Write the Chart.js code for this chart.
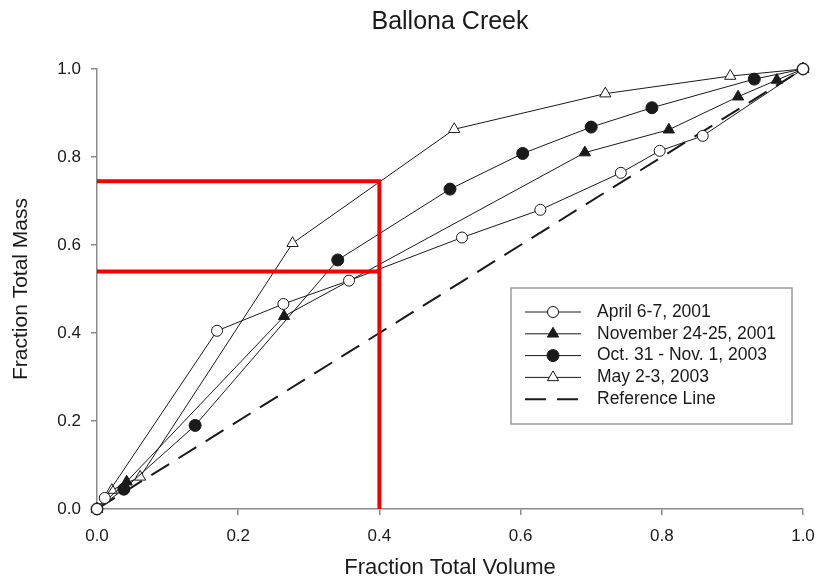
<!DOCTYPE html>
<html>
<head>
<meta charset="utf-8">
<title>Ballona Creek</title>
<script src="https://cdn.jsdelivr.net/npm/chart.js@4.4.1/dist/chart.umd.min.js"></script>
<style>
  html, body { margin: 0; padding: 0; background: #fff; }
  #wrap { width: 819px; height: 581px; }
</style>
</head>
<body>
<div id="wrap"><canvas id="chart" width="819" height="581"></canvas></div>
<script>
/* =========================
   DATOS
==========================*/
const aprilX = [0, 0.011, 0.17, 0.264, 0.357, 0.517, 0.628, 0.742, 0.797, 0.858, 1.0];
const aprilY = [0, 0.025, 0.405, 0.466, 0.519, 0.617, 0.680, 0.764, 0.814, 0.848, 1.0];

const novX = [0, 0.042, 0.265, 0.691, 0.81, 0.908, 0.963, 1.0];
const novY = [0, 0.062, 0.438, 0.81, 0.862, 0.937, 0.975, 1.0];

const octX = [0, 0.038, 0.139, 0.341, 0.5, 0.603, 0.70, 0.786, 0.931, 1.0];
const octY = [0, 0.045, 0.19, 0.566, 0.727, 0.808, 0.868, 0.912, 0.977, 1.0];

const mayX = [0, 0.021, 0.061, 0.277, 0.506, 0.72, 0.897, 1.0];
const mayY = [0, 0.043, 0.073, 0.604, 0.863, 0.944, 0.984, 1.0];

const refX = [0, 1];
const refY = [0, 1];

// lineas rojas de lectura
const guideX = [0, 0.4, 0.4];
const guideY = [0.745, 0.745, 0];
const guide2X = [0, 0.4];
const guide2Y = [0.54, 0.54];

const seriesNames = [
  "April 6-7, 2001",
  "November 24-25, 2001",
  "Oct. 31 - Nov. 1, 2003",
  "May 2-3, 2003",
  "Reference Line",
];

const tickValues = [0, 0.2, 0.4, 0.6, 0.8, 1.0];

function pts(xs, ys) {
  return xs.map((x, i) => ({ x, y: ys[i] }));
}

const INK = "#1a1a1a";
const FONT = "'Liberation Sans', Arial, sans-serif";

function serie(label, xs, ys, style, fill, radius) {
  return {
    label,
    data: pts(xs, ys),
    borderColor: INK,
    borderWidth: 1,
    pointStyle: style,
    pointRadius: radius,
    pointHoverRadius: radius,
    pointBackgroundColor: fill,
    pointBorderColor: INK,
    pointBorderWidth: 1,
    tension: 0,
    clip: false,
    order: 2,
  };
}

const datasets = [
  {
    label: "guia",
    data: pts(guideX, guideY),
    borderColor: "#f00000",
    borderWidth: 4,
    pointRadius: 0,
    order: 0,
  },
  {
    label: "guia2",
    data: pts(guide2X, guide2Y),
    borderColor: "#f00000",
    borderWidth: 4,
    pointRadius: 0,
    order: 0,
  },
  serie(seriesNames[0], aprilX, aprilY, "circle", "#fff", 5.5),
  serie(seriesNames[1], novX, novY, "triangle", INK, 6.5),
  serie(seriesNames[2], octX, octY, "circle", INK, 6),
  serie(seriesNames[3], mayX, mayY, "triangle", "#fff", 6.5),
  {
    label: seriesNames[4],
    data: pts(refX, refY),
    borderColor: INK,
    borderWidth: 2,
    borderDash: [21, 11],
    pointRadius: 0,
    order: 3,
  },
];

/* =========================
   LEYENDA CON CAJA
==========================*/
const boxLegend = {
  id: "boxLegend",
  afterDatasetsDraw(chart) {
    const ctx = chart.ctx;
    const left = 511, top = 288, w = 281, h = 136;
    ctx.save();
    ctx.fillStyle = "#fff";
    ctx.fillRect(left, top, w, h);
    ctx.strokeStyle = "#9a9a9a";
    ctx.lineWidth = 1.5;
    ctx.strokeRect(left, top, w, h);

    const items = datasets.filter((d) => seriesNames.includes(d.label));
    items.forEach((d, i) => {
      const y = top + 24 + i * 21.8;
      ctx.strokeStyle = INK;
      ctx.lineWidth = d.borderWidth;
      ctx.setLineDash(d.borderDash || []);
      ctx.beginPath();
      ctx.moveTo(525, y);
      ctx.lineTo(581, y);
      ctx.stroke();
      ctx.setLineDash([]);
      if (d.pointRadius > 0) {
        ctx.fillStyle = d.pointBackgroundColor;
        ctx.strokeStyle = INK;
        Chart.helpers.drawPoint(ctx, {
          pointStyle: d.pointStyle,
          radius: d.pointRadius,
          borderWidth: 1,
          rotation: 0,
        }, 553, y);
      }
      ctx.fillStyle = "#1a1a1a";
      ctx.font = "17.5px " + FONT;
      ctx.textBaseline = "middle";
      ctx.textAlign = "left";
      ctx.fillText(d.label, 597, y);
    });
    ctx.restore();
  },
};

/* =========================
   GRÁFICO
==========================*/
const ctx = document.getElementById("chart");

new Chart(ctx, {
  type: "line",
  data: { datasets },
  plugins: [boxLegend],
  options: {
    responsive: false,
    animation: false,
    layout: { padding: { left: 0, right: 16, top: 0, bottom: 0 } },
    plugins: {
      legend: { display: false },
      tooltip: { enabled: false },
      title: {
        display: true,
        text: "Ballona Creek",
        fullSize: false,
        color: "#1a1a1a",
        font: { family: FONT, size: 25, weight: "normal", lineHeight: 1.2 },
        padding: { top: 7, bottom: 32 },
      },
    },
    scales: {
      x: {
        type: "linear",
        min: 0,
        max: 1,
        afterFit: (s) => { s.height = 72; s.paddingRight = 0; s.paddingLeft = 0; },
        afterBuildTicks: (s) => { s.ticks = tickValues.map((v) => ({ value: v })); },
        border: { display: true, color: "#8a8a8a", width: 1.5 },
        grid: { display: true, drawOnChartArea: false, drawTicks: true, tickLength: 6, color: "#8a8a8a", lineWidth: 1.5 },
        ticks: {
          padding: 11,
          color: "#1a1a1a",
          font: { family: FONT, size: 17 },
          callback: (v) => Number(v).toFixed(1),
        },
        title: {
          display: true,
          text: "Fraction Total Volume",
          color: "#1a1a1a",
          font: { family: FONT, size: 22 },
          padding: { top: 0, bottom: 0 },
        },
      },
      y: {
        type: "linear",
        min: 0,
        max: 1,
        afterFit: (s) => { s.width = 97; s.paddingTop = 0; s.paddingBottom = 0; },
        afterBuildTicks: (s) => { s.ticks = tickValues.map((v) => ({ value: v })); },
        border: { display: true, color: "#8a8a8a", width: 1.5 },
        grid: { display: true, drawOnChartArea: false, drawTicks: true, tickLength: 6, color: "#8a8a8a", lineWidth: 1.5 },
        ticks: {
          padding: 10,
          color: "#1a1a1a",
          font: { family: FONT, size: 17 },
          callback: (v) => Number(v).toFixed(1),
        },
        title: {
          display: true,
          text: "Fraction Total Mass",
          color: "#1a1a1a",
          font: { family: FONT, size: 21 },
          padding: { top: 9, bottom: 0 },
        },
      },
    },
  },
});
</script>
</body>
</html>
